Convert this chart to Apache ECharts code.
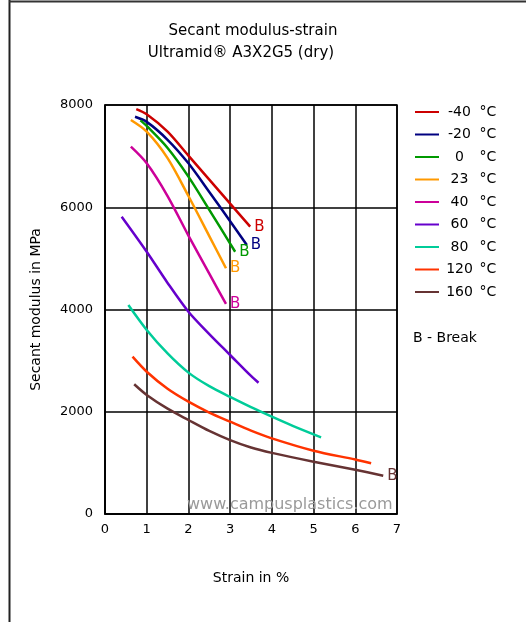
<!DOCTYPE html>
<html>
<head>
<meta charset="utf-8">
<script src="https://cdn.jsdelivr.net/npm/echarts@6/dist/echarts.min.js"></script>
<style>
  html, body { margin: 0; padding: 0; background: #fff; }
  #chart { width: 526px; height: 622px; }
</style>
</head>
<body>
<div id="chart"></div>
<script>
// Legend / series names
var seriesNames = ['-40 °C', '-20 °C', '0 °C', '23 °C', '40 °C', '60 °C', '80 °C', '120 °C', '160 °C'];
var seriesColors = ['#cc0000', '#000080', '#009900', '#ff9900', '#cc0099', '#6600cc', '#00cc99', '#ff3300', '#663333'];
// Break markers ("B") per series
var breakFlags = [true, true, true, true, true, false, false, false, true];

// Data: [strain %, secant modulus MPa]
var dM40 = [[0.75, 7920], [1, 7820], [1.5, 7480], [2, 7010], [2.5, 6540], [3, 6070], [3.48, 5620]];
var dM20 = [[0.72, 7770], [1, 7670], [1.5, 7320], [2, 6860], [2.5, 6300], [3, 5725], [3.4, 5262]];
var d0   = [[0.85, 7700], [1, 7590], [1.5, 7160], [2, 6600], [2.5, 5950], [3, 5290], [3.12, 5130]];
var d23  = [[0.62, 7706], [1, 7478], [1.5, 6960], [2, 6220], [2.5, 5436], [2.9, 4806]];
var d40  = [[0.62, 7185], [1, 6860], [1.5, 6220], [2, 5445], [2.5, 4700], [2.9, 4108]];
var d60  = [[0.4, 5815], [1, 5130], [1.5, 4520], [2, 3957], [2.5, 3520], [3, 3110], [3.5, 2700], [3.68, 2568]];
var d80  = [[0.56, 4088], [1, 3600], [1.5, 3140], [2, 2765], [2.5, 2500], [3, 2290], [3.5, 2090], [4, 1904], [4.5, 1725], [5.18, 1500]];
var d120 = [[0.66, 3077], [1, 2783], [1.5, 2450], [2, 2197], [2.5, 1985], [3, 1805], [3.5, 1630], [4, 1480], [5, 1238], [6, 1065], [6.38, 991]];
var d160 = [[0.7, 2537], [1, 2328], [1.5, 2060], [2, 1839], [2.5, 1625], [3, 1445], [3.5, 1300], [4, 1195], [5, 1023], [6, 865], [6.67, 750]];
var seriesData = [dM40, dM20, d0, d23, d40, d60, d80, d120, d160];

// Axis ticks
var xTicks = [0, 1, 2, 3, 4, 5, 6, 7];
var yTicks = [0, 2000, 4000, 6000, 8000];

var FONT = 'DejaVu Sans';

var chart = echarts.init(document.getElementById('chart'), null, { renderer: 'canvas' });

var series = seriesNames.map(function (name, i) {
  return {
    name: name,
    type: 'line',
    data: seriesData[i],
    smooth: 0.3,
    showSymbol: false,
    symbol: 'none',
    lineStyle: { color: seriesColors[i], width: 2.5 },
    itemStyle: { color: seriesColors[i] },
    endLabel: {
      show: breakFlags[i],
      formatter: 'B',
      color: seriesColors[i],
      fontFamily: FONT,
      fontSize: 15,
      distance: 4
    },
    silent: true,
    animation: false
  };
});

var option = {
  animation: false,
  backgroundColor: '#fff',
  title: [
    { text: 'Secant modulus-strain', left: 248, top: 19, textAlign: 'center',
      textStyle: { fontFamily: FONT, fontSize: 15, fontWeight: 'normal', color: '#000' } },
    { text: 'Ultramid® A3X2G5 (dry)', left: 236, top: 41, textAlign: 'center',
      textStyle: { fontFamily: FONT, fontSize: 15, fontWeight: 'normal', color: '#000' } }
  ],
  grid: {
    left: 105, right: 129, top: 105, bottom: 108,
    show: true, borderColor: '#000', borderWidth: 1.5, backgroundColor: 'transparent'
  },
  legend: {
    orient: 'vertical',
    left: 410,
    top: 99,
    itemWidth: 24,
    itemHeight: 2,
    itemGap: 6.5,
    icon: 'rect',
    selectedMode: false,
    data: seriesNames,
    formatter: function (name) {
      var p = name.split(' ');
      return '{a|' + p[0] + '}{b| ' + p[1] + '}';
    },
    textStyle: {
      fontFamily: FONT, fontSize: 14, color: '#000', lineHeight: 16,
      rich: {
        a: { width: 31, align: 'right', fontFamily: FONT, fontSize: 14, lineHeight: 16 },
        b: { fontFamily: FONT, fontSize: 14, lineHeight: 16 }
      }
    }
  },
  xAxis: {
    type: 'value',
    min: 0, max: 7, interval: 1,
    name: 'Strain in %',
    nameLocation: 'middle',
    nameGap: 57,
    nameTextStyle: { fontFamily: FONT, fontSize: 14, color: '#000' },
    axisLine: { show: true, lineStyle: { color: '#000', width: 1.5 } },
    axisTick: { show: false },
    axisLabel: {
      margin: 9, fontFamily: FONT, fontSize: 13, color: '#000',
      customValues: xTicks,
      formatter: function (v) { return String(v); }
    },
    splitLine: { show: true, lineStyle: { color: '#000', width: 1.5 } }
  },
  yAxis: {
    type: 'value',
    min: 0, max: 8000, interval: 2000,
    name: 'Secant modulus in MPa',
    nameLocation: 'middle',
    nameGap: 62,
    nameTextStyle: { fontFamily: FONT, fontSize: 14, color: '#000' },
    axisLine: { show: true, lineStyle: { color: '#000', width: 1.5 } },
    axisTick: { show: false },
    axisLabel: {
      margin: 12, fontFamily: FONT, fontSize: 13, color: '#000',
      customValues: yTicks,
      formatter: function (v) { return String(v); }
    },
    splitLine: { show: true, lineStyle: { color: '#000', width: 1.5 } }
  },
  graphic: [
    { type: 'line', shape: { x1: 9.5, y1: 0, x2: 9.5, y2: 622 }, style: { stroke: '#222', lineWidth: 2 }, z: 100 },
    { type: 'line', shape: { x1: 9, y1: 1.5, x2: 526, y2: 1.5 }, style: { stroke: '#333', lineWidth: 2 }, z: 100 },
    { type: 'text', left: 413, top: 331,
      style: { text: 'B - Break', fontFamily: FONT, fontSize: 14, fill: '#000' } },
    { type: 'text', left: 187, top: 497, z: 100,
      style: { text: 'www.campusplastics.com', fontFamily: FONT, fontSize: 16, fill: '#9a9a9a' } }
  ],
  series: series
};

chart.setOption(option);
</script>
</body>
</html>
